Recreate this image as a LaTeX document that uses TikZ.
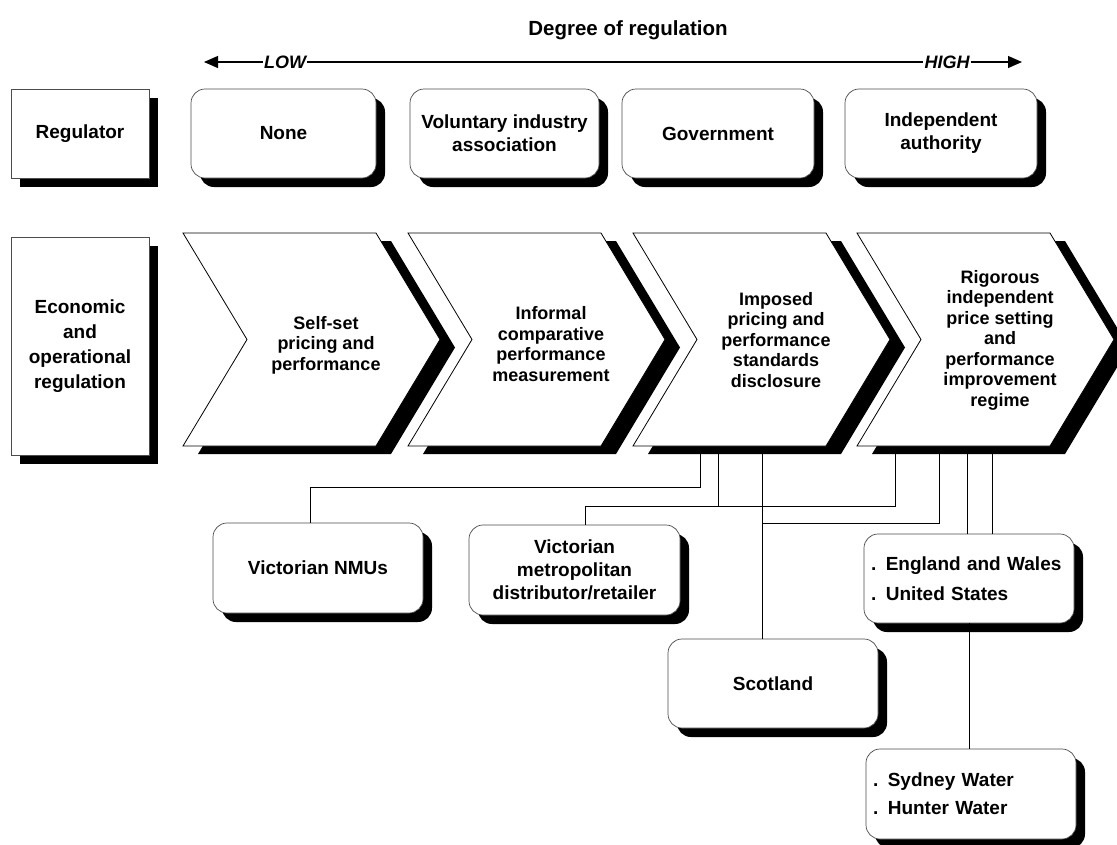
\documentclass[tikz,border=0pt]{standalone}
\usepackage{fontspec}
\setmainfont{Liberation Sans}
\usetikzlibrary{arrows.meta,shadows}
\newcommand{\lblfont}{\fontsize{19}{23}\selectfont\bfseries}
\newcommand{\chvfont}{\fontsize{18}{20.5}\selectfont\bfseries}

\begin{document}
\begin{tikzpicture}[x=1pt,y=-1pt,
    plainbox/.style={draw=black!70,line width=0.7pt,fill=white,inner sep=0pt,
      align=center,font=\lblfont,minimum height=89pt,
      drop shadow={shadow xshift=9pt,shadow yshift=-9pt,fill=black,opacity=1}},
    roundbox/.style={plainbox,rounded corners=14pt},
    listbox/.style={roundbox,align=left,text width=196pt,minimum width=210pt},
    chevtext/.style={align=center,font=\chvfont},
    tag/.style={font=\fontsize{18}{20}\selectfont\bfseries\itshape,inner sep=1pt},
    link/.style={line width=0.9pt}]
  \useasboundingbox (0,0) rectangle (1117,844);
  % Degree axis
  \node[font=\fontsize{20.5}{24}\selectfont\bfseries] (title) at (628,30) {Degree of regulation};
  \coordinate (lowend) at (204,62);
  \coordinate (highend) at (1022,62);
  \node[tag] (low) at (285,62) {LOW};
  \node[tag] (high) at (947,62) {HIGH};
  \draw[line width=1.2pt,-{Triangle[length=14pt,width=12pt]}] (low.west) -- (lowend);
  \draw[line width=1.2pt] (low.east) -- (high.west);
  \draw[line width=1.2pt,-{Triangle[length=14pt,width=12pt]}] (high.east) -- (highend);
  % Regulator row
  \node[plainbox,minimum width=138pt] (reg) at (80,133.5) {Regulator};
  \node[roundbox,minimum width=185pt] (none) at (283.5,133.5) {None};
  \node[roundbox,minimum width=189pt] (vol) at (504.5,133.5) {Voluntary industry\\association};
  \node[roundbox,minimum width=192pt] (gov) at (718,133.5) {Government};
  \node[roundbox,minimum width=192pt] (ind) at (941,133.5) {Independent\\authority};
  % Regulation stages
  \node[plainbox,minimum width=138pt,minimum height=218pt,font=\fontsize{19}{25}\selectfont\bfseries]
    (econ) at (80,346) {Economic\\and\\operational\\regulation};
  \foreach \x/\y/\n/\txt in {183/345/stage1/{Self-set\\pricing and\\performance},
      408/344/stage2/{Informal\\comparative\\performance\\measurement},
      633/340/stage3/{Imposed\\pricing and\\performance\\standards\\disclosure},
      857/340/stage4/{Rigorous\\independent\\price setting\\and\\performance\\improvement\\regime}} {
    \fill[shift={(15,8)}] (\x,233) -- ++(193,0) -- ++(64,106.5) -- ++(-64,106.5)
      -- ++(-193,0) -- ++(64,-106.5) -- cycle;
    \draw[fill=white,line width=0.8pt] (\x,233) -- ++(193,0) -- ++(64,106.5) -- ++(-64,106.5)
      -- ++(-193,0) -- ++(64,-106.5) -- cycle;
    \node[chevtext] (\n) at (\x+143,\y) {\txt};
  }
  % Examples
  \node[roundbox,minimum width=210pt,minimum height=90pt] (nmu) at (318,568) {Victorian NMUs};
  \node[roundbox,minimum width=211pt,minimum height=90pt] (metro) at (574.5,570)
    {Victorian\\metropolitan\\distributor/retailer};
  \node[roundbox,minimum width=210pt] (scot) at (773,683.5) {Scotland};
  \node[listbox] (eng) at (969,578.5) {. England and Wales\\[7pt]. United States};
  \node[listbox,minimum height=90pt] (syd) at (971,794) {. Sydney Water\\[5pt]. Hunter Water};
  % Links
  \coordinate (c3a) at (700,454);
  \coordinate (c3b) at (718,454);
  \coordinate (c3c) at (762,454);
  \coordinate (c4a) at (895,454);
  \coordinate (c4b) at (939,454);
  \coordinate (c4c) at (967,454);
  \coordinate (c4d) at (992,454);
  \draw[link] (c3a) -- ++(0,33) -| ([xshift=-8pt]nmu.north);
  \draw[link] (c3b) -- ++(0,52);
  \draw[link] (c4a) -- ++(0,52) -| ([xshift=10.5pt]metro.north);
  \draw[link] (c3c) -- (c3c |- scot.north);
  \draw[link] (c4b) -- ++(0,69) -| (c3c);
  \draw[link] (c4c) -- (c4c |- eng.north);
  \draw[link] (c4d) -- (c4d |- eng.north);
  \draw[link] (eng.south) -- (eng.south |- syd.north);
\end{tikzpicture}
\end{document}
